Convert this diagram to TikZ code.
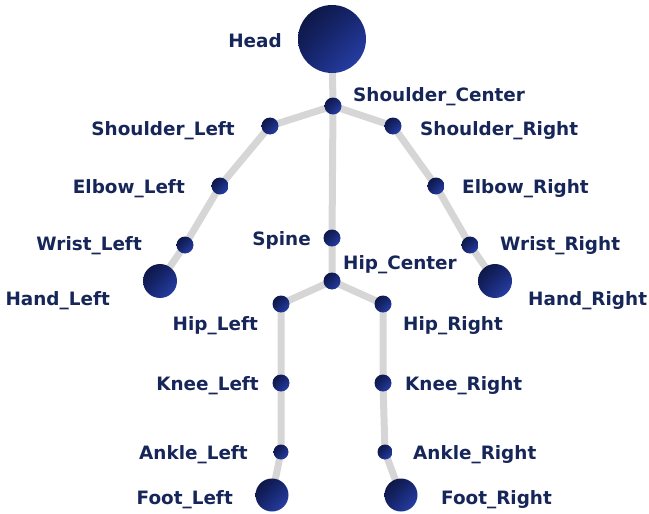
\documentclass[tikz,border=0pt]{standalone}
\usepackage{fontspec}
\setmainfont{DejaVu Sans}
\usetikzlibrary{shadings}
\definecolor{txt}{HTML}{172659}
\definecolor{bone}{HTML}{D6D6D6}
\definecolor{jdark}{HTML}{0A1238}
\definecolor{jmid}{HTML}{16256E}
\definecolor{jlight}{HTML}{2C47B8}
\tikzset{
  joint/.style={circle,inner sep=0pt,minimum size=#1,upper left=jdark,lower right=jlight,upper right=jmid,lower left=jmid},
  bonel/.style={draw=bone,line width=7pt},
  lbl/.style={font=\bfseries\fontsize{18.4}{21}\selectfont,text=txt,inner sep=0pt},
  lL/.style={lbl,anchor=base east},
  lR/.style={lbl,anchor=base west},
}
\begin{document}
\begin{tikzpicture}[x=1pt,y=-1pt]
\useasboundingbox (0,0) rectangle (649,514);
% joint positions
\coordinate (head) at (332,39);
\coordinate (sc) at (333,106);
\coordinate (sl) at (270,126);
\coordinate (sr) at (393,126);
\coordinate (el) at (220,186);
\coordinate (er) at (436,186);
\coordinate (wl) at (185,245);
\coordinate (wr) at (470,245);
\coordinate (hl) at (160,281);
\coordinate (hr) at (495,281);
\coordinate (sp) at (332,238);
\coordinate (hc) at (332,281);
\coordinate (hipl) at (281,304);
\coordinate (hipr) at (383,304);
\coordinate (kl) at (281,383);
\coordinate (kr) at (383,383);
\coordinate (al) at (281,452);
\coordinate (ar) at (385,452);
\coordinate (fl) at (272,495);
\coordinate (fr) at (401,495);
% bones
\draw[bonel] (head) -- (sc) -- (sp) -- (hc);
\draw[bonel] (sc) -- (sl) -- (el) -- (wl) -- (hl);
\draw[bonel] (sc) -- (sr) -- (er) -- (wr) -- (hr);
\draw[bonel] (hc) -- (hipl) -- (kl) -- (al) -- (fl);
\draw[bonel] (hc) -- (hipr) -- (kr) -- (ar) -- (fr);
% joints
\node[joint=68pt] (nhead) at (head) {};
\foreach \p in {sc,sl,sr,el,er,wl,wr,sp,hc,hipl,hipr,kl,kr}
  \node[joint=17pt] (n\p) at (\p) {};
\node[joint=15pt] (nal) at (al) {};
\node[joint=15pt] (nar) at (ar) {};
\node[joint=34pt] (nhl) at (hl) {};
\node[joint=34pt] (nhr) at (hr) {};
\node[joint=33pt] (nfl) at (fl) {};
\node[joint=33pt] (nfr) at (fr) {};
% labels
\node[lL] (lhead) at (282,47) {Head};
\node[lR] (lsc) at (353,101) {Shoulder\_Center};
\node[lL] (lsl) at (235,135) {Shoulder\_Left};
\node[lR] (lsr) at (420,135) {Shoulder\_Right};
\node[lL] (lel) at (185,193) {Elbow\_Left};
\node[lR] (ler) at (462,193) {Elbow\_Right};
\node[lL] (lwl) at (142,250) {Wrist\_Left};
\node[lR] (lwr) at (500,250) {Wrist\_Right};
\node[lL] (lsp) at (311,245) {Spine};
\node[lR] (lhc) at (343,269) {Hip\_Center};
\node[lL] (lhl) at (110,305) {Hand\_Left};
\node[lR] (lhr) at (528,305) {Hand\_Right};
\node[lL] (lhipl) at (258,330) {Hip\_Left};
\node[lR] (lhipr) at (403,330) {Hip\_Right};
\node[lL] (lkl) at (259,390) {Knee\_Left};
\node[lR] (lkr) at (405,390) {Knee\_Right};
\node[lL] (lal) at (248,459) {Ankle\_Left};
\node[lR] (lar) at (413,459) {Ankle\_Right};
\node[lL] (lfl) at (233,504) {Foot\_Left};
\node[lR] (lfr) at (441,504) {Foot\_Right};
\end{tikzpicture}
\end{document}
